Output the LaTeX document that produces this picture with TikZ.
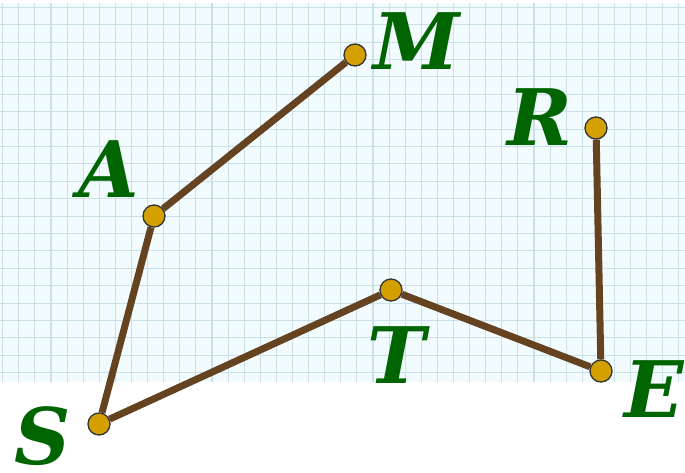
\documentclass[tikz,border=0pt]{standalone}
\usepackage{fontspec}
\usepackage{xcolor}
\newfontfamily\labelfont{DejaVu Serif}
\definecolor{gridbg}{RGB}{242, 251, 254}
\definecolor{gridline}{RGB}{204, 224, 234}
\definecolor{pathbrown}{RGB}{101, 67, 33}
\definecolor{dotgold}{RGB}{212, 160, 0}
\definecolor{lblgreen}{RGB}{0, 100, 0}
\usetikzlibrary{backgrounds}

\begin{document}
\begin{tikzpicture}[x=1pt, y=-1pt,
  dot/.style={circle, draw=black!80, fill=dotgold, line width=1.3pt, minimum size=22pt, inner sep=0pt},
  lbl/.style={text=lblgreen, inner sep=0pt, font=\labelfont\bfseries\itshape\fontsize{78}{80}\selectfont},
  seg/.style={draw=pathbrown, line width=7pt}
]
\useasboundingbox (0,0) rectangle (685,472);

% grid paper
\begin{scope}[on background layer]
  \fill[gridbg] (0,3) rectangle (685,382);
  \foreach \i in {0,...,42}
    \draw[gridline, line width=1.1pt] ({2.7+16.1*\i},3) -- ({2.7+16.1*\i},382);
  \foreach \j in {0,...,21}
    \draw[gridline, line width=1.1pt] (0,{7.3+17.4*\j}) -- (685,{7.3+17.4*\j});
\end{scope}

% points
\node[dot] (m) at (355,55) {};
\node[dot] (a) at (154,216) {};
\node[dot] (s) at (99,424) {};
\node[dot] (t) at (391,290) {};
\node[dot] (e) at (601,371) {};
\node[dot] (r) at (596,128) {};

% labels
\node[lbl] (lm) at (417,41) {M};
\node[lbl] (lr) at (540,117) {R};
\node[lbl] (la) at (109,169) {A};
\node[lbl] (lt) at (397,355) {T};
\node[lbl] (le) at (654,389) {E};
\node[lbl] (ls) at (43,436) {S};

% path
\begin{scope}[on background layer]
  \draw[seg] (m) -- (a);
  \draw[seg] (a) -- (s);
  \draw[seg] (s) -- (t);
  \draw[seg] (t) -- (e);
  \draw[seg] (e) -- (r);
\end{scope}
\end{tikzpicture}
\end{document}
